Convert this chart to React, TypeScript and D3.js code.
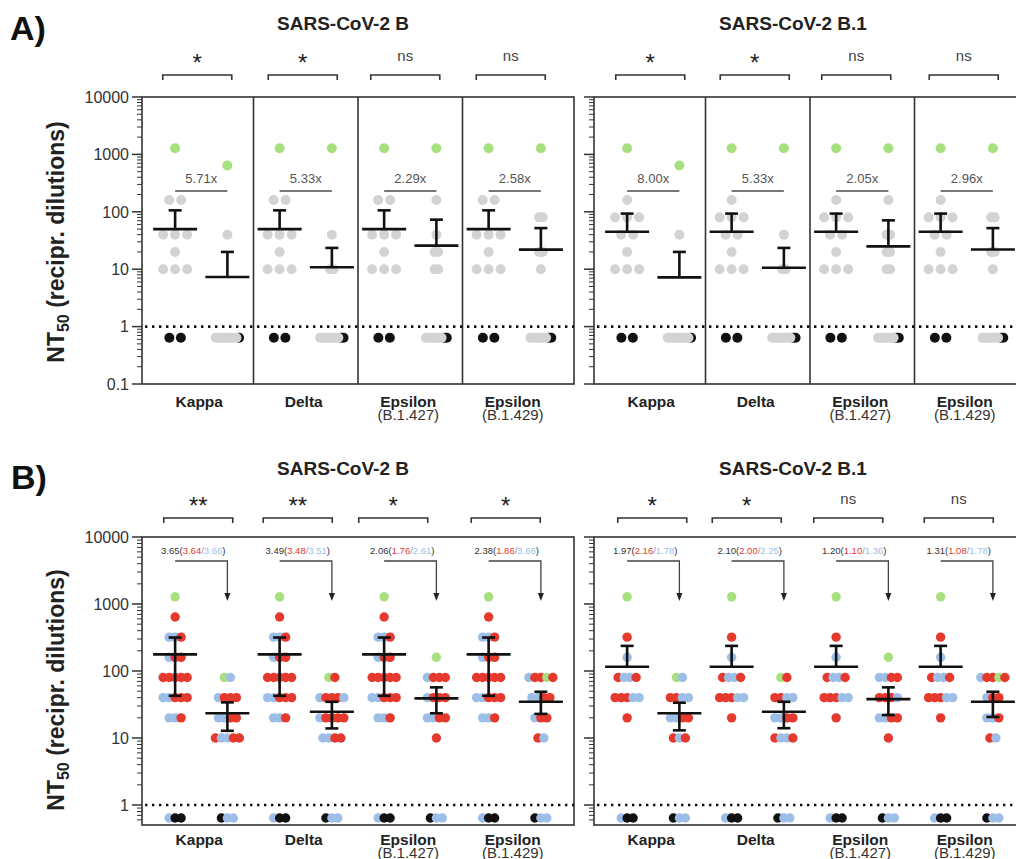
import React from "react";
import * as d3 from "d3";

const W = 1016;
const H = 859;
const FONT = "'Liberation Sans', Arial, Helvetica, sans-serif";

// ---------- shared data ----------
const variantNames = ["Kappa", "Delta", "Epsilon", "Epsilon"];
const variantSubs = ["", "", "(B.1.427)", "(B.1.429)"];
const refTitles = ["SARS-CoV-2 B", "SARS-CoV-2 B.1"];
const LOD_VALUE = 0.64;

type Row = [number, string];

// ---------- Panel A data ----------
const sigA = [["*", "*", "ns", "ns"], ["*", "*", "ns", "ns"]];
const foldA = [["5.71x", "5.33x", "2.29x", "2.58x"], ["8.00x", "5.33x", "2.05x", "2.96x"]];
const refRowsA: Row[][] = [
  [[1280, "g"], [160, "yy"], [40, "yyy"], [20, "y"], [10, "yyy"]],
  [[1280, "g"], [160, "y"], [80, "yyy"], [40, "yy"], [20, "y"], [10, "yyy"]],
];
const refLodA = ["kk", "kk"];
const refMeanA = [50, 45];
const refUpperA = [106, 93];
const varRowsA: Row[][][] = [
  [
    [[640, "g"], [40, "y"]],
    [[1280, "g"], [40, "y"], [10, "yy"]],
    [[1280, "g"], [160, "y"], [40, "y"], [20, "yy"], [10, "yy"]],
    [[1280, "g"], [80, "yy"], [20, "yy"], [10, "y"]],
  ],
  [
    [[640, "g"], [40, "y"]],
    [[1280, "g"], [40, "y"], [10, "yy"]],
    [[1280, "g"], [160, "y"], [40, "yy"], [20, "yy"], [10, "yy"]],
    [[1280, "g"], [80, "yy"], [20, "yy"], [10, "y"]],
  ],
];
const varLodA = [
  ["yyyyyyyyyk", "yyyyyyyykk", "yyyyyyykk", "yyyyyyykk"],
  ["yyyyyyyyyk", "yyyyyyyykk", "yyyyyyykk", "yyyyyyykk"],
];
const varMeanA = [[7.3, 10.8, 25.7, 21.9], [7.2, 10.6, 25, 22]];
const varUpperA = [[20, 23.5, 73, 52], [20, 23.5, 71, 52]];
const tickValsA = [0.1, 1, 10, 100, 1000, 10000];
const tickLabsA = ["0.1", "1", "10", "100", "1000", "10000"];

// ---------- Panel B data ----------
const sigB = [["**", "**", "*", "*"], ["*", "*", "ns", "ns"]];
const foldB = [
  [["3.65", "3.64", "3.66"], ["3.49", "3.48", "3.51"], ["2.06", "1.76", "2.61"], ["2.38", "1.86", "3.66"]],
  [["1.97", "2.16", "1.78"], ["2.10", "2.00", "2.25"], ["1.20", "1.10", "1.36"], ["1.31", "1.08", "1.78"]],
];
const refRowsB: Row[][] = [
  [[1280, "g"], [640, "r"], [320, "bbr"], [160, "brr"], [80, "rrrrr"], [40, "bbrrr"], [20, "bbr"]],
  [[1280, "g"], [320, "r"], [160, "b"], [80, "rbbr"], [40, "rrrbb"], [20, "r"]],
];
const refLodB = ["bkk", "bkk"];
const refMeanB = [177, 116];
const refUpperB = [316, 237];
const refLowerB: (number | null)[] = [42.6, null];
const varRowsB: Row[][][] = [
  [
    [[80, "gb"], [40, "brrr"], [20, "bbrr"], [10, "rbbrr"]],
    [[80, "gr"], [40, "brrrb"], [20, "brrrr"], [10, "bbrr"]],
    [[160, "g"], [80, "brrr"], [40, "brrr"], [20, "bbrr"], [10, "r"]],
    [[80, "brrgr"], [40, "bbrr"], [20, "brr"], [10, "rb"]],
  ],
  [
    [[80, "gb"], [40, "rrbb"], [20, "bbrr"], [10, "rbr"]],
    [[80, "gr"], [40, "rrbb"], [20, "bbrr"], [10, "rbbr"]],
    [[160, "g"], [80, "bbrr"], [40, "rrrb"], [20, "bbrr"], [10, "r"]],
    [[80, "brrgr"], [40, "brr"], [20, "bbr"], [10, "rb"]],
  ],
];
const varLodB = [["kbb", "kbb", "kbb", "kbb"], ["kbb", "kbb", "kbb", "kbb"]];
const varMeanB = [[23.4, 24.6, 39, 34.7], [23.4, 24.6, 38, 34.7]];
const varUpperB = [[34, 34.7, 57, 49], [33.6, 34.7, 57, 49]];
const varLowerB = [[12.8, 13.9, 23.4, 22.9], [13, 14, 22, 20.6]];
const tickValsB = [1, 10, 100, 1000, 10000];
const tickLabsB = ["1", "10", "100", "1000", "10000"];

// ---------- styles / layout ----------
const COL: Record<string, string> = {
  g: "#a7e07f",
  y: "#d3d3d3",
  k: "#111111",
  r: "#e4392c",
  b: "#9dbee7",
};
const AXIS = "#333";
const BOX_X = [142, 594];
const PAD = 7;
const BW = 104.5;
const BOX_W = PAD * 2 + BW * 4;
const sigOffA = [[-4, -3, -5, -4], [-3, -3, -6, -3]];
const sigOffB = [[-3, -8, -17, -9], [-1, -11, -14, -8]];

function yTicks(scale: any, x: number, vals: number[], labs: string[] | null, key: string) {
  const [d0, d1] = scale.domain();
  const out: any[] = [];
  for (let e = -2; e <= 4; e++) {
    for (let m = 2; m <= 9; m++) {
      const v = m * Math.pow(10, e);
      if (v < d0 || v > d1) continue;
      const y = scale(v);
      out.push(<line key={`${key}mn${e}${m}`} x1={x - 5} x2={x} y1={y} y2={y} stroke={AXIS} strokeWidth={1} />);
    }
  }
  vals.forEach((v, i) => {
    const y = scale(v);
    out.push(<line key={`${key}mj${i}`} x1={x - 10} x2={x} y1={y} y2={y} stroke={AXIS} strokeWidth={1.5} />);
    if (labs)
      out.push(
        <text key={`${key}lb${i}`} x={x - 13} y={y} dy="0.36em" textAnchor="end" fontSize={16} fill="#333">
          {labs[i]}
        </text>
      );
  });
  return out;
}

function dotRow(cx: number, y: number, colors: string, spacing: number, r: number, key: string, blackFirst = false) {
  const n = colors.length;
  const items = colors.split("").map((c, i) => ({ c, x: cx + (i - (n - 1) / 2) * spacing, i }));
  const ordered = blackFirst ? [...items.filter((d) => d.c === "k"), ...items.filter((d) => d.c !== "k")] : items;
  return ordered.map((d) => <circle key={`${key}-${d.i}`} cx={d.x} cy={y} r={r} fill={COL[d.c]} />);
}

function meanBar(cx: number, yMean: number, yUp: number, yLo: number | null, key: string) {
  const els = [
    <line key={key + "m"} x1={cx - 22} x2={cx + 22} y1={yMean} y2={yMean} stroke="#111" strokeWidth={2.6} />,
    <line key={key + "s"} x1={cx} x2={cx} y1={yUp} y2={yLo ?? yMean} stroke="#111" strokeWidth={2.6} />,
    <line key={key + "cu"} x1={cx - 6.5} x2={cx + 6.5} y1={yUp} y2={yUp} stroke="#111" strokeWidth={2.6} />,
  ];
  if (yLo !== null)
    els.push(<line key={key + "cl"} x1={cx - 6.5} x2={cx + 6.5} y1={yLo} y2={yLo} stroke="#111" strokeWidth={2.6} />);
  return els;
}

function bracket(cx: number, y: number, label: string, key: string) {
  const isNs = label === "ns";
  return [
    <path
      key={key + "b"}
      d={`M${cx - 34.5},${y + 5}V${y}H${cx + 34.5}V${y + 5}`}
      fill="none"
      stroke={AXIS}
      strokeWidth={1.6}
    />,
    <text
      key={key + "t"}
      x={cx}
      y={isNs ? y - 14 : y - 4}
      textAnchor="middle"
      fontSize={isNs ? 15 : 24}
      fill={isNs ? "#444" : "#222"}
    >
      {label}
    </text>,
  ];
}

function xLabels(band: any, y: number, key: string) {
  return variantNames.map((nm, i) => {
    const cx = band(i) + BW / 2 - 2;
    return (
      <g key={`${key}${i}`}>
        <text x={cx} y={y} textAnchor="middle" fontSize={15.5} fontWeight="bold" fill="#222">
          {nm}
        </text>
        {variantSubs[i] && (
          <text x={cx} y={y + 13} textAnchor="middle" fontSize={15} fill="#333">
            {variantSubs[i]}
          </text>
        )}
      </g>
    );
  });
}

function panelA(side: number) {
  const bx = BOX_X[side];
  const top = 97;
  const bot = 384;
  const y = d3.scaleLog().domain([0.1, 10000]).range([bot, top]);
  const band = d3.scaleBand<number>().domain([0, 1, 2, 3]).range([bx + PAD, bx + PAD + 4 * BW]);
  const els: any[] = [];
  const k = `A${side}`;
  els.push(<rect key={k + "box"} x={bx} y={top} width={BOX_W} height={bot - top} fill="none" stroke={AXIS} strokeWidth={1.6} />);
  [1, 2, 3].forEach((i) =>
    els.push(<line key={k + "div" + i} x1={band(i)} x2={band(i)} y1={top} y2={bot} stroke={AXIS} strokeWidth={1.6} />)
  );
  els.push(...yTicks(y, bx, tickValsA, side === 0 ? tickLabsA : null, k + "t"));
  els.push(
    <line key={k + "lod"} x1={bx + 3} x2={bx + BOX_W} y1={y(1)} y2={y(1)} stroke="#111" strokeWidth={2.6} strokeDasharray="2.4 4.6" />
  );
  variantNames.forEach((_, i) => {
    const b0 = band(i)!;
    const g1 = b0 + BW * 0.25;
    const g2 = b0 + BW * 0.75;
    refRowsA[side].forEach(([v, c], j) => els.push(...dotRow(g1, y(v), c, 12, 5, `${k}r${i}-${j}`)));
    els.push(...dotRow(g1, y(LOD_VALUE), refLodA[side], 11.5, 5, `${k}rl${i}`));
    varRowsA[side][i].forEach(([v, c], j) => els.push(...dotRow(g2, y(v), c, 3.5, 5, `${k}v${i}-${j}`)));
    els.push(...dotRow(g2, y(LOD_VALUE), varLodA[side][i], 2.6, 5, `${k}vl${i}`, true));
    els.push(...meanBar(g1, y(refMeanA[side]), y(refUpperA[side]), null, `${k}m1${i}`));
    els.push(...meanBar(g2, y(varMeanA[side][i]), y(varUpperA[side][i]), null, `${k}m2${i}`));
    // fold change
    els.push(
      <text key={k + "f" + i} x={(g1 + g2) / 2} y={top + 86} textAnchor="middle" fontSize={13} fill="#555">
        {foldA[side][i]}
      </text>
    );
    els.push(<line key={k + "fl" + i} x1={g1} x2={g2} y1={top + 94} y2={top + 94} stroke="#777" strokeWidth={2} />);
    els.push(...bracket((g1 + g2) / 2 + sigOffA[side][i], 75, sigA[side][i], `${k}s${i}`));
  });
  els.push(...xLabels(band, 407, k + "x"));
  return els;
}

function panelB(side: number) {
  const bx = BOX_X[side];
  const top = 537;
  const bot = 825;
  const y = d3.scaleLog().domain([Math.pow(10, -0.2985), 10000]).range([bot, top]);
  const band = d3.scaleBand<number>().domain([0, 1, 2, 3]).range([bx + PAD, bx + PAD + 4 * BW]);
  const els: any[] = [];
  const k = `B${side}`;
  els.push(<rect key={k + "box"} x={bx} y={top} width={BOX_W} height={bot - top} fill="none" stroke={AXIS} strokeWidth={1.6} />);
  els.push(...yTicks(y, bx, tickValsB, side === 0 ? tickLabsB : null, k + "t"));
  els.push(
    <line key={k + "lod"} x1={bx + 3} x2={bx + BOX_W} y1={y(1)} y2={y(1)} stroke="#111" strokeWidth={2.6} strokeDasharray="2.4 4.6" />
  );
  variantNames.forEach((_, i) => {
    const b0 = band(i)!;
    const g1 = b0 + BW * 0.25;
    const g2 = b0 + BW * 0.75;
    refRowsB[side].forEach(([v, c], j) => els.push(...dotRow(g1, y(v), c, 6, 4.7, `${k}r${i}-${j}`)));
    els.push(...dotRow(g1, y(LOD_VALUE), refLodB[side], 6, 4.7, `${k}rl${i}`));
    varRowsB[side][i].forEach(([v, c], j) => els.push(...dotRow(g2, y(v), c, 6, 4.7, `${k}v${i}-${j}`)));
    els.push(...dotRow(g2, y(LOD_VALUE), varLodB[side][i], 6, 4.7, `${k}vl${i}`));
    const lo = refLowerB[side];
    els.push(...meanBar(g1, y(refMeanB[side]), y(refUpperB[side]), lo === null ? null : y(lo), `${k}m1${i}`));
    els.push(...meanBar(g2, y(varMeanB[side][i]), y(varUpperB[side][i]), y(varLowerB[side][i]), `${k}m2${i}`));
    // fold-change annotation with arrow
    const [all, conv, vac] = foldB[side][i];
    els.push(
      <text key={k + "f" + i} x={(g1 + g2) / 2 - 8} y={top + 17} textAnchor="middle" fontSize={9.5} fill="#333">
        <tspan>{all}(</tspan>
        <tspan fill={COL.r}>{conv}</tspan>
        <tspan fill="#8a9ab0">/</tspan>
        <tspan fill={COL.b}>{vac}</tspan>
        <tspan>)</tspan>
      </text>
    );
    els.push(
      <path key={k + "fl" + i} d={`M${g1},${top + 24}H${g2}V${top + 57}`} fill="none" stroke="#444" strokeWidth={1.3} />
    );
    els.push(
      <path key={k + "fa" + i} d={`M${g2 - 3},${top + 56}L${g2 + 3},${top + 56}L${g2},${top + 64}Z`} fill="#222" />
    );
    els.push(...bracket((g1 + g2) / 2 + sigOffB[side][i], 518, sigB[side][i], `${k}s${i}`));
  });
  els.push(...xLabels(band, 845, k + "x"));
  return els;
}

function yLabel(cy: number, key: string) {
  return (
    <text key={key} transform={`translate(64,${cy}) rotate(-90)`} textAnchor="middle" fontSize={23} fontWeight="bold" fill="#222">
      NT
      <tspan fontSize={16} dy={5}>
        50
      </tspan>
      <tspan dy={-5}> (recipr. dilutions)</tspan>
    </text>
  );
}

export default function App() {
  const titleX = [343, 793];
  return (
    <svg
      width={W}
      height={H}
      viewBox={`0 0 ${W} ${H}`}
      style={{ position: "absolute", left: 0, top: 0, background: "#fff" }}
      fontFamily={FONT}
    >
      <rect x={0} y={0} width={W} height={H} fill="#fff" />
      <text x={10} y={40} fontSize={34} fontWeight="bold" fill="#111">
        A)
      </text>
      <text x={11} y={489} fontSize={34} fontWeight="bold" fill="#111">
        B)
      </text>
      {refTitles.map((t, i) => (
        <text key={"ta" + i} x={titleX[i]} y={30} textAnchor="middle" fontSize={19} fontWeight="bold" fill="#222">
          {t}
        </text>
      ))}
      {refTitles.map((t, i) => (
        <text key={"tb" + i} x={titleX[i]} y={475} textAnchor="middle" fontSize={19} fontWeight="bold" fill="#222">
          {t}
        </text>
      ))}
      {yLabel(242, "yla")}
      {yLabel(690, "ylb")}
      {panelA(0)}
      {panelA(1)}
      {panelB(0)}
      {panelB(1)}
    </svg>
  );
}
